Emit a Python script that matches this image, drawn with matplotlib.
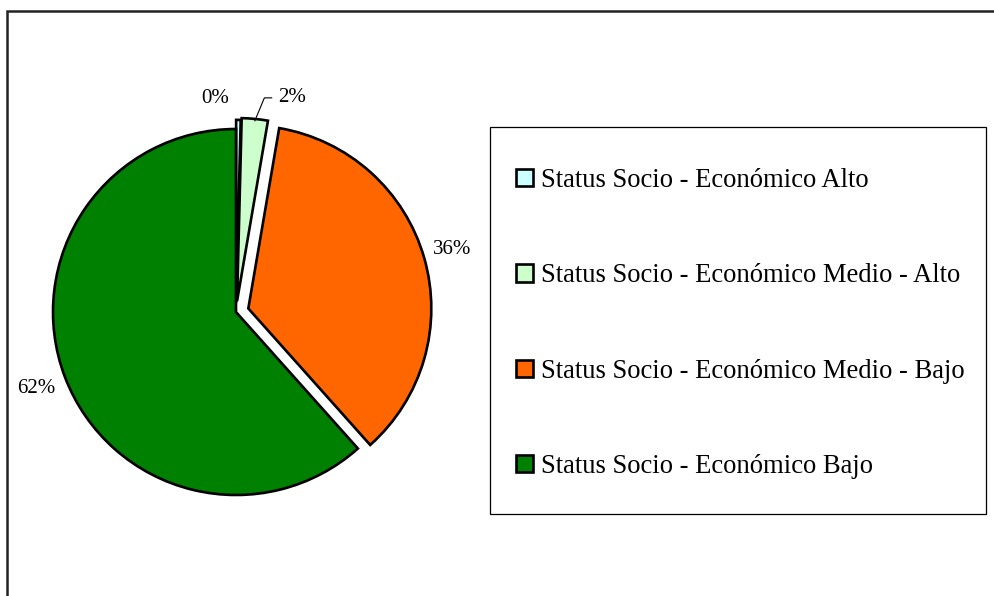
import numpy as np
import matplotlib
matplotlib.use('Agg')
import matplotlib.pyplot as plt
from matplotlib.patches import Rectangle

plt.rcParams['font.family'] = ['Liberation Serif', 'DejaVu Serif']

# data (percent of respondents)
categories = ['Status Socio - Económico Alto',
              'Status Socio - Económico Medio - Alto',
              'Status Socio - Económico Medio - Bajo',
              'Status Socio - Económico Bajo']
shares = [0.4, 2.3, 35.7, 61.6]
colors = ['#CCFFFF', '#CCFFCC', '#FF6600', '#008000']

# styling per slice
explode = [0.05, 0.06, 0.07, 0.0]
label_dist = [1.12, 1.15, 1.16, 1.17]
label_shift = [6.6, -9.5, 0.0, 0.0]  # degrees, Excel nudges the tiny ones apart

W, H = 994, 596
fig = plt.figure(figsize=(W / 100, H / 100), dpi=100)

# outer chart-area border (cropped at right / bottom)
fig.patches.append(Rectangle((7 / W, -0.2), 1.2, 1.2 - 11 / H,
                             transform=fig.transFigure, fill=False,
                             edgecolor='#222222', linewidth=1.8))

# pie axes: radius 1 == 183 px, centre at (236, 312) px
r_px = 183.0
cx, cy = 236.0, 312.0
lim = 1.2
ax = fig.add_axes([(cx - lim * r_px) / W, (H - cy - lim * r_px) / H,
                   2 * lim * r_px / W, 2 * lim * r_px / H])

pct_labels = ['%.0f%%' % s for s in shares]
wedges, texts = ax.pie(shares, colors=colors, explode=explode, labels=pct_labels,
                       startangle=90, counterclock=False,
                       wedgeprops=dict(edgecolor='black', linewidth=1.9),
                       textprops=dict(fontsize=15))
ax.set_xlim(-lim, lim)
ax.set_ylim(-lim, lim)
ax.set_aspect('auto')
ax.axis('off')

for i, (w, t) in enumerate(zip(wedges, texts)):
    mid = np.deg2rad((w.theta1 + w.theta2) / 2 + label_shift[i])
    midw = np.deg2rad((w.theta1 + w.theta2) / 2)
    ox = explode[i] * np.cos(midw)
    oy = explode[i] * np.sin(midw)
    tx = ox + label_dist[i] * np.cos(mid)
    ty = oy + label_dist[i] * np.sin(mid)
    t.set_position((tx, ty))
    t.set_ha('center')
    t.set_va('center')
    if i == 1:
        # leader line from label to the small slice
        ex = (1 + explode[i]) * np.cos(midw)
        ey = (1 + explode[i]) * np.sin(midw)
        ax.plot([tx - 0.11, tx - 0.15, ex], [ty, ty, ey - 0.01],
                color='black', linewidth=0.8, clip_on=False)

# legend box
fig.patches.append(Rectangle((490 / W, 1 - 514 / H), 496 / W, 387 / H,
                             transform=fig.transFigure, fill=False,
                             edgecolor='black', linewidth=0.9))
fs = 19.2
leg = ax.legend(wedges, categories, loc='upper left',
                bbox_to_anchor=(516 / W, 1 - 168 / H), bbox_transform=fig.transFigure,
                frameon=False, fontsize=fs, borderpad=0, borderaxespad=0,
                handlelength=0.62, handleheight=0.62, handletextpad=0.3,
                labelspacing=2.64)

fig.savefig('out.png', dpi=100)
